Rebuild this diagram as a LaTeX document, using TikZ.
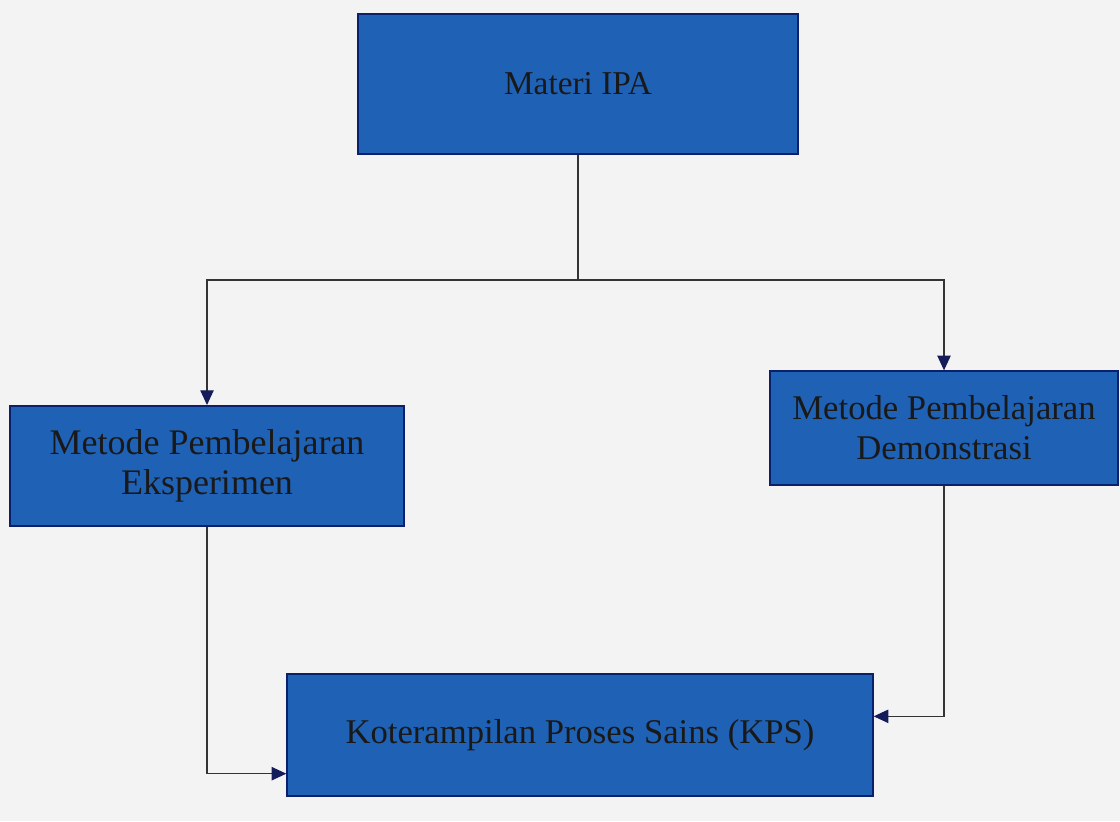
\documentclass[tikz,border=0pt]{standalone}
\usepackage{fontspec}
\setmainfont{Liberation Serif}
\usetikzlibrary{arrows.meta}

\definecolor{boxblue}{HTML}{1F62B5}
\definecolor{boxline}{HTML}{0B1F6B}
\definecolor{bgpaper}{HTML}{F4F3F3}
\definecolor{tipnavy}{HTML}{141C5A}

\tikzset{every picture/.style={line width=0.75pt}}
\tikzset{
  blok/.style={draw=boxline, fill=boxblue, line width=1.5pt, align=center,
    text=black!90, font=\fontsize{26}{30}\selectfont, inner sep=0pt},
  garis/.style={draw=black!80, line width=0.9pt},
  panah/.style={garis, -{Triangle[width=10pt,length=11pt,color=tipnavy]}},
}

\begin{document}
\begin{tikzpicture}[x=0.75pt,y=0.75pt,yscale=-1,xscale=1]
%set diagram left start at 0, and has height of 821
\path[fill=bgpaper] (0,0) rectangle (1120,821);
\useasboundingbox (0,0) rectangle (1120,821);

%Shape: Rectangle
\node[blok, minimum width=330pt, minimum height=105pt, font=\fontsize{25}{30}\selectfont] (materi) at (578,84) {Materi IPA};
%Shape: Rectangle
\node[blok, minimum width=295pt, minimum height=90pt, font=\fontsize{27}{30}\selectfont] (eksperimen) at (207,466) {Metode Pembelajaran\\Eksperimen};
%Shape: Rectangle
\node[blok, minimum width=261pt, minimum height=85pt] (demonstrasi) at (944,428) {Metode Pembelajaran\\Demonstrasi};
%Shape: Rectangle
\node[blok, minimum width=439pt, minimum height=91pt] (kps) at (580,735) {Koterampilan Proses Sains (KPS)};

\coordinate (split) at (578,280);

%Straight Lines
\draw[garis] (materi.south) -- (split);
%Straight Lines
\draw[panah] (split) -| (eksperimen.north);
\draw[panah] (split) -| (demonstrasi.north);
%Straight Lines
\draw[panah] (eksperimen.south) |- ([yshift=29pt]kps.west);
\draw[panah] (demonstrasi.south) |- ([yshift=-14pt]kps.east);

\end{tikzpicture}
\end{document}
